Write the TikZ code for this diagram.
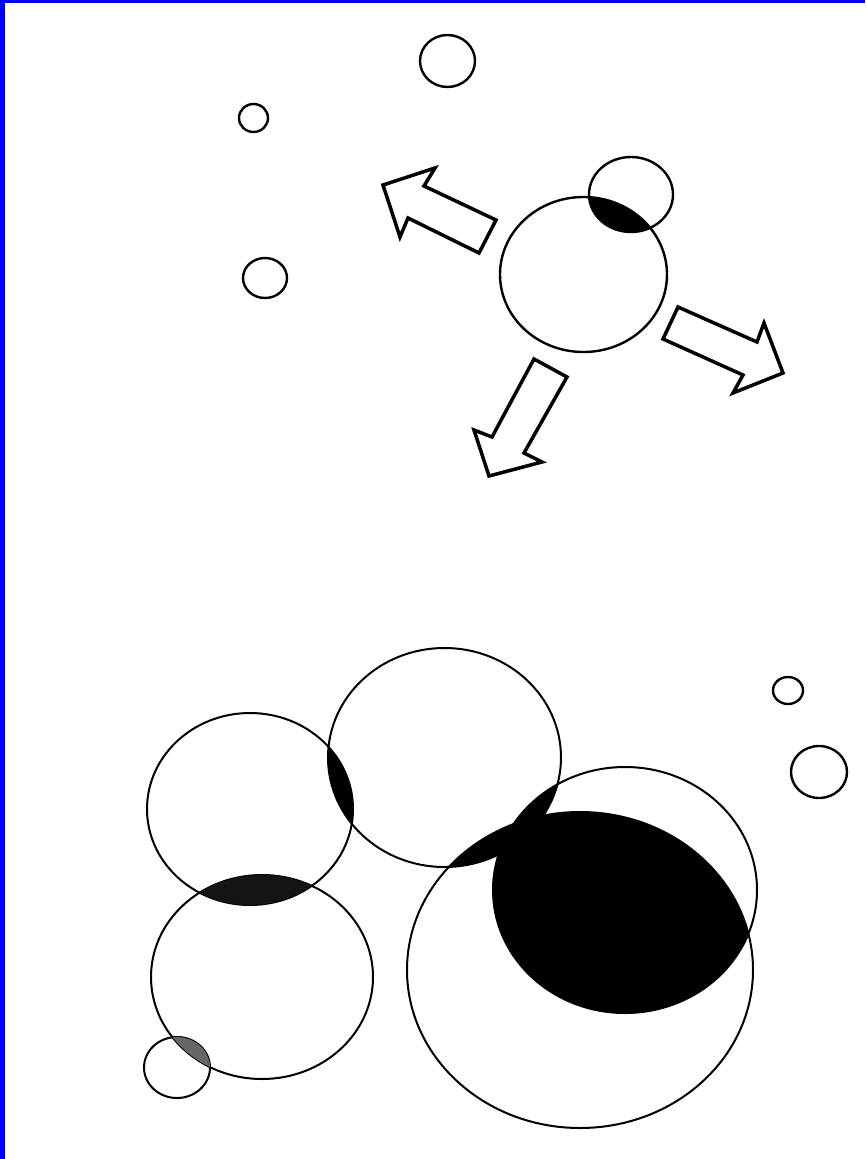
\documentclass[tikz,border=0pt]{standalone}
\usetikzlibrary{calc}
\begin{document}
\begin{tikzpicture}[x=1pt,y=-1pt,
  ring/.style={line width=2.4pt},
  thinring/.style={line width=2pt},
  arrowshape/.style={line width=3.5pt,line join=miter,fill=white},
  lens/.style={fill=black},
  greylens/.style={fill=black!60}]
\useasboundingbox (0,0) rectangle (865,1159);
% blue frame (left and top)
\fill[blue] (0,0) rectangle (865,2.5);
\fill[blue] (0,0) rectangle (4.5,1159);

% circle definitions
\def\cA{(447.5,61) ellipse [x radius=27.5pt, y radius=26pt]}
\def\cB{(253.5,118) ellipse [x radius=14.5pt, y radius=14pt]}
\def\cC{(265,278) ellipse [x radius=22pt, y radius=20pt]}
\def\cM{(583.5,274.5) ellipse [x radius=83.5pt, y radius=77.5pt]}
\def\cN{(631,194.5) ellipse [x radius=42pt, y radius=37.5pt]}
\def\cD{(250,809) ellipse [x radius=103pt, y radius=96pt]}
\def\cE{(262,977) ellipse [x radius=111pt, y radius=102pt]}
\def\cF{(444.5,757.5) ellipse [x radius=116.5pt, y radius=109.5pt]}
\def\cG{(580,970) ellipse [x radius=173pt, y radius=158pt]}
\def\cH{(625,890) ellipse [x radius=132pt, y radius=123pt]}
\def\cI{(177,1067.5) ellipse [x radius=33pt, y radius=30.5pt]}
\def\cJ{(788,690.5) ellipse [x radius=15pt, y radius=13.5pt]}
\def\cK{(819,772) ellipse [x radius=28pt, y radius=26pt]}

% outlines
\draw[ring] \cA;
\draw[ring] \cB;
\draw[ring] \cC;
\draw[ring] \cJ;
\draw[ring] \cK;
\draw[ring] \cM;
\draw[ring] \cN;
\draw[thinring] \cD;
\draw[thinring] \cE;
\draw[thinring] \cF;
\draw[thinring] \cG;
\draw[thinring] \cH;
\draw[thinring] \cI;

% filled overlaps
\begin{scope}\clip \cM; \fill[lens] \cN; \end{scope}
\begin{scope}\clip \cD; \fill[lens] \cF; \end{scope}
\begin{scope}\clip \cD; \fill[black!92] \cE; \end{scope}
\begin{scope}\clip \cF; \fill[lens] \cG; \end{scope}
\begin{scope}\clip \cF; \fill[lens] \cH; \end{scope}
\begin{scope}\clip \cG; \fill[lens] \cH; \end{scope}
\begin{scope}\clip \cE; \fill[greylens] \cI; \end{scope}

% arrows
\draw[arrowshape] (496,220) -- (424,186) -- (435,168) -- (383,185)
  -- (400,237) -- (408,218) -- (479,253) -- cycle;
\draw[arrowshape] (678,307) -- (757,342) -- (764,323) -- (783,373)
  -- (733,393) -- (743,375) -- (663,339) -- cycle;
\draw[arrowshape] (567,377) -- (524,453) -- (542,462) -- (489,476)
  -- (474,430) -- (492,437) -- (534,359) -- cycle;
\end{tikzpicture}
\end{document}
